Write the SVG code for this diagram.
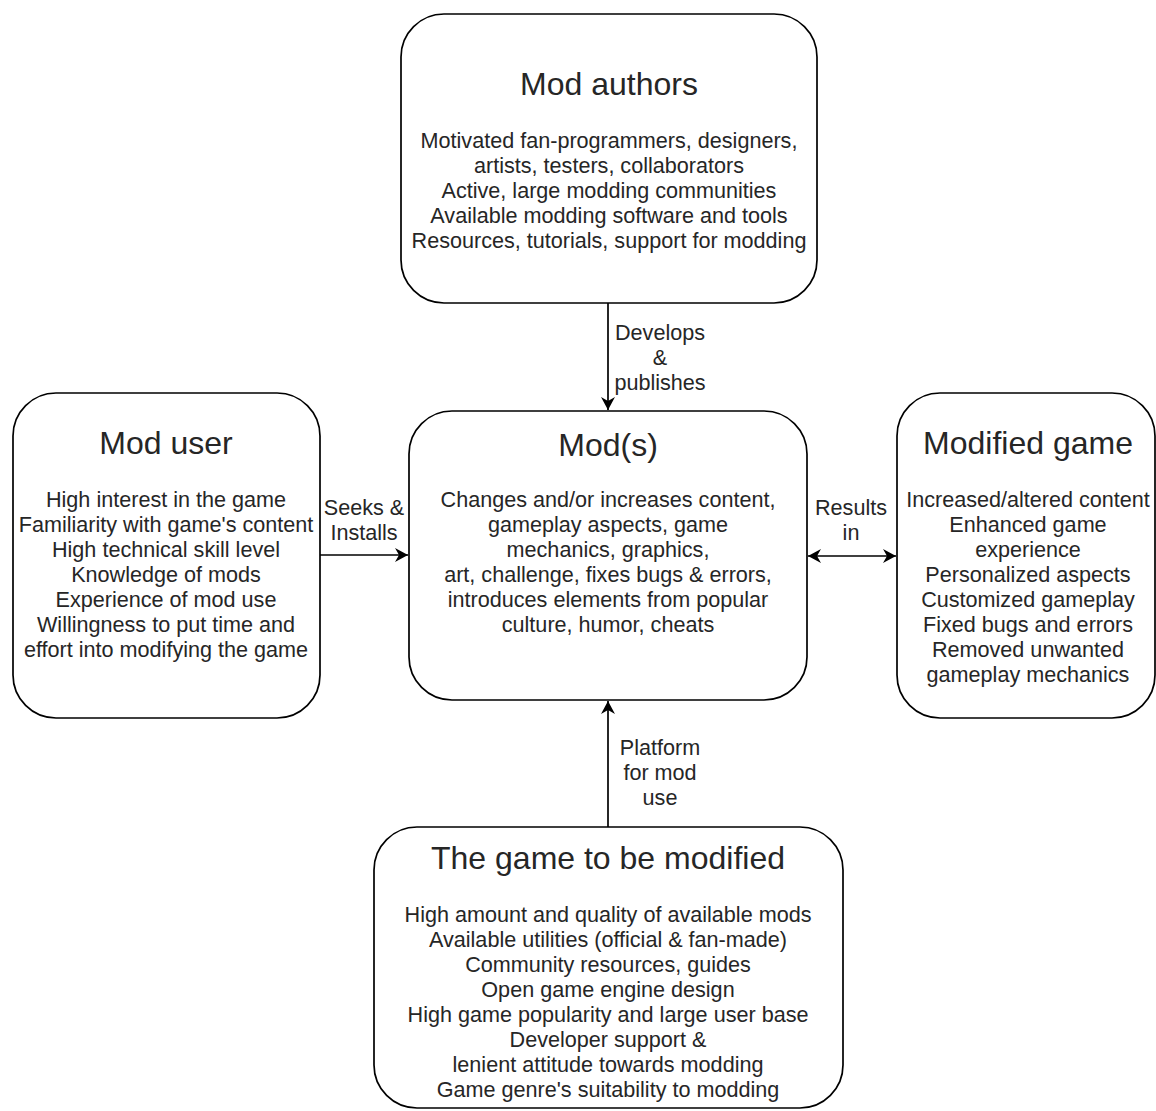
<svg xmlns="http://www.w3.org/2000/svg" width="1156" height="1111" viewBox="0 0 1156 1111">
<style>
.box{fill:#fff;stroke:#000;stroke-width:1.7}
.t{font-family:"Liberation Sans",Arial,sans-serif;fill:#262626;text-anchor:middle}
.title{font-size:32px}
.body{font-size:21.6px}
.edge{stroke:#000;stroke-width:1.7;fill:none}
</style>
<defs>
<marker id="arr" markerUnits="userSpaceOnUse" markerWidth="16" markerHeight="16" refX="13" refY="7" orient="auto-start-reverse">
<path d="M0,0 L13,7 L0,14 L4,7 Z" fill="#000"/>
</marker>
</defs>
<rect width="1156" height="1111" fill="#fff"/>
<g id="connectors">
<line class="edge" x1="608" y1="303" x2="608" y2="410" marker-end="url(#arr)"/>
<line class="edge" x1="320" y1="555" x2="408" y2="555" marker-end="url(#arr)"/>
<line class="edge" x1="808" y1="556" x2="896" y2="556" marker-start="url(#arr)" marker-end="url(#arr)"/>
<line class="edge" x1="608" y1="827" x2="608" y2="701" marker-end="url(#arr)"/>
<text class="t body"><tspan x="660" y="340">Develops</tspan><tspan x="660" y="365">&amp;</tspan><tspan x="660" y="390">publishes</tspan></text>
<text class="t body"><tspan x="364" y="515">Seeks &amp;</tspan><tspan x="364" y="540">Installs</tspan></text>
<text class="t body"><tspan x="851" y="515">Results</tspan><tspan x="851" y="540">in</tspan></text>
<text class="t body"><tspan x="660" y="755">Platform</tspan><tspan x="660" y="780">for mod</tspan><tspan x="660" y="805">use</tspan></text>
</g>
<g id="mod-authors">
<rect class="box" x="401" y="14" width="416" height="289" rx="43" ry="43"/>
<text class="t title" x="609" y="95">Mod authors</text>
<text class="t body"><tspan x="609" y="148">Motivated fan-programmers, designers,</tspan><tspan x="609" y="173">artists, testers, collaborators</tspan><tspan x="609" y="198">Active, large modding communities</tspan><tspan x="609" y="223">Available modding software and tools</tspan><tspan x="609" y="248">Resources, tutorials, support for modding</tspan></text>
</g>
<g id="mod-user">
<rect class="box" x="13" y="393" width="307" height="325" rx="43" ry="43"/>
<text class="t title" x="166" y="454">Mod user</text>
<text class="t body"><tspan x="166" y="507">High interest in the game</tspan><tspan x="166" y="532">Familiarity with game's content</tspan><tspan x="166" y="557">High technical skill level</tspan><tspan x="166" y="582">Knowledge of mods</tspan><tspan x="166" y="607">Experience of mod use</tspan><tspan x="166" y="632">Willingness to put time and</tspan><tspan x="166" y="657">effort into modifying the game</tspan></text>
</g>
<g id="mods">
<rect class="box" x="409" y="411" width="398" height="289" rx="43" ry="43"/>
<text class="t title" x="608" y="456">Mod(s)</text>
<text class="t body"><tspan x="608" y="507">Changes and/or increases content,</tspan><tspan x="608" y="532">gameplay aspects, game</tspan><tspan x="608" y="557">mechanics, graphics,</tspan><tspan x="608" y="582">art, challenge, fixes bugs &amp; errors,</tspan><tspan x="608" y="607">introduces elements from popular</tspan><tspan x="608" y="632">culture, humor, cheats</tspan></text>
</g>
<g id="modified-game">
<rect class="box" x="897" y="393" width="258" height="325" rx="43" ry="43"/>
<text class="t title" x="1028" y="454">Modified game</text>
<text class="t body"><tspan x="1028" y="507">Increased/altered content</tspan><tspan x="1028" y="532">Enhanced game</tspan><tspan x="1028" y="557">experience</tspan><tspan x="1028" y="582">Personalized aspects</tspan><tspan x="1028" y="607">Customized gameplay</tspan><tspan x="1028" y="632">Fixed bugs and errors</tspan><tspan x="1028" y="657">Removed unwanted</tspan><tspan x="1028" y="682">gameplay mechanics</tspan></text>
</g>
<g id="game-to-be-modified">
<rect class="box" x="374" y="827" width="469" height="281" rx="43" ry="43"/>
<text class="t title" x="608" y="869">The game to be modified</text>
<text class="t body"><tspan x="608" y="922">High amount and quality of available mods</tspan><tspan x="608" y="947">Available utilities (official &amp; fan-made)</tspan><tspan x="608" y="972">Community resources, guides</tspan><tspan x="608" y="997">Open game engine design</tspan><tspan x="608" y="1022">High game popularity and large user base</tspan><tspan x="608" y="1047">Developer support &amp;</tspan><tspan x="608" y="1072">lenient attitude towards modding</tspan><tspan x="608" y="1097">Game genre's suitability to modding</tspan></text>
</g>
</svg>
